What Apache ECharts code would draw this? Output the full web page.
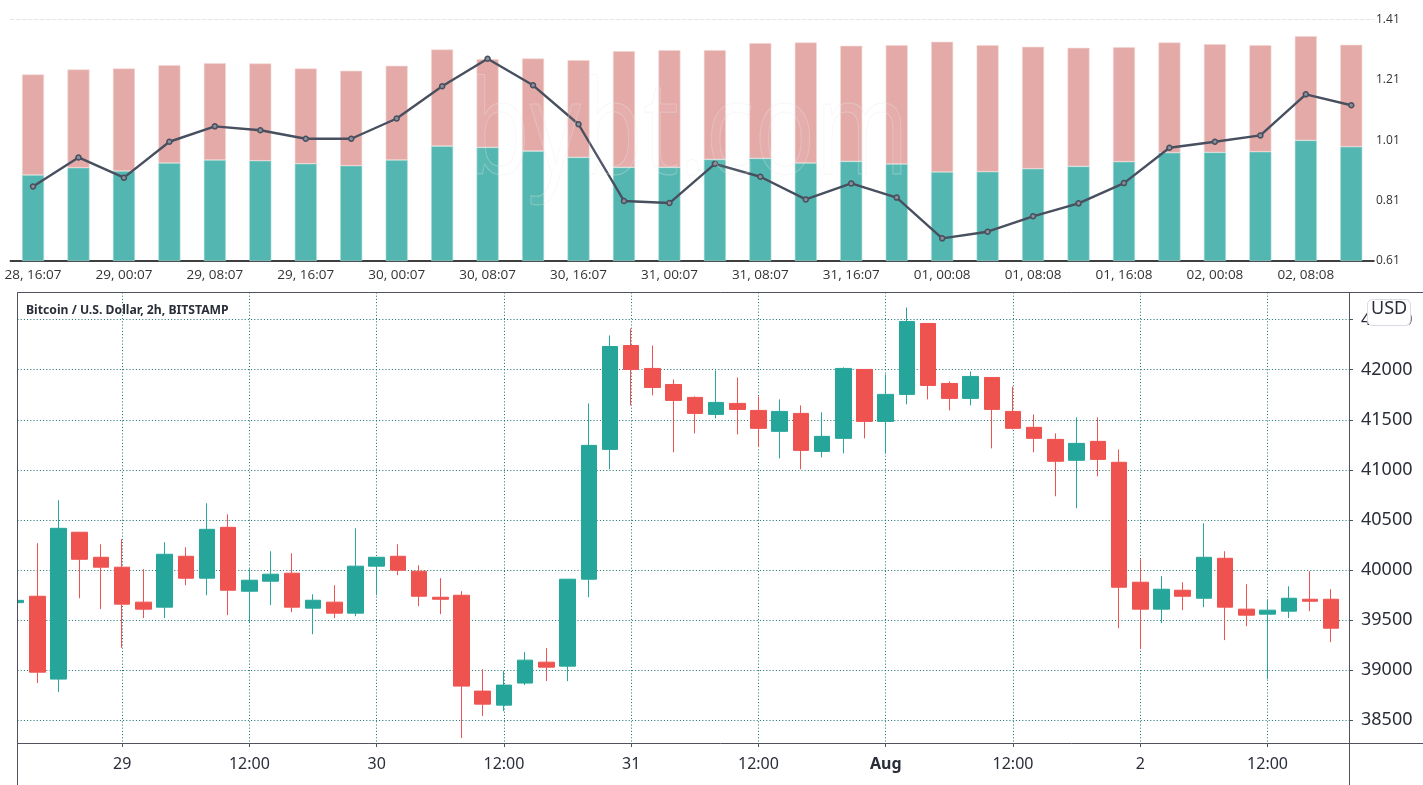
<!DOCTYPE html>
<html><head><meta charset="utf-8">
<style>html,body{margin:0;padding:0;background:#fff}#c{width:1423px;height:785px}</style>
<script src="https://cdn.jsdelivr.net/npm/echarts@6/dist/echarts.min.js"></script>
</head><body><div id="c"></div>
<script>
// ---- upper panel
const ratioLabels = ['28, 16:07','28, 20:07','29, 00:07','29, 04:07','29, 08:07','29, 12:07','29, 16:07','29, 20:07','30, 00:07','30, 04:07','30, 08:07','30, 12:07','30, 16:07','30, 20:07','31, 00:07','31, 04:07','31, 08:07','31, 12:07','31, 16:07','31, 20:07','01, 00:08','01, 04:08','01, 08:08','01, 12:08','01, 16:08','01, 20:08','02, 00:08','02, 04:08','02, 08:08','02, 12:08'];
const longs  = [258,280,270,294,303,301,292,286,303,345,341,330,311,281,281,305,308,294,299,291,267,268,277,284,298,325,326,328,362,343];
const shorts = [302,295,308,294,291,292,286,285,283,290,265,278,292,349,352,328,346,362,347,357,391,380,366,356,344,331,325,320,313,306];
const ratio  = [0.857,0.953,0.886,1.005,1.056,1.043,1.015,1.015,1.082,1.189,1.280,1.192,1.063,0.809,0.802,0.932,0.889,0.814,0.867,0.820,0.685,0.707,0.758,0.801,0.868,0.985,1.005,1.026,1.162,1.126];
// ---- lower panel, 2h candles; x is hours since 28 Jul 00:00, first candle at 14:00
const firstHour = 14;
const opens  = [39675,39739,38912,40378,40128,40029,39680,39630,40138,39919,40427,39789,39889,39969,39620,39680,39570,40039,40138,39989,39729,39749,38792,38652,38872,39081,39041,39909,41205,42242,42013,41853,41724,41554,41664,41594,41385,41564,41185,41315,42003,41484,41754,42462,41863,41714,41923,41584,41425,41305,41096,41285,41076,39879,39610,39799,39719,40118,39610,39560,39590,39709,39709];
const closes = [39698,38981,40417,40108,40029,39660,39610,40158,39919,40407,39799,39899,39959,39630,39699,39570,40039,40128,39999,39739,39709,38842,38662,38852,39101,39031,39909,41245,42232,42003,41823,41694,41564,41674,41604,41415,41584,41195,41335,42013,41484,41754,42482,41843,41714,41933,41604,41415,41315,41086,41265,41105,39829,39610,39809,39739,40128,39630,39550,39600,39719,39689,39420];
const lows   = [39675,38872,38782,39719,39610,39224,39520,39520,39849,39749,39550,39480,39650,39580,39360,39520,39540,39749,39949,39640,39560,38323,38543,38592,38852,38892,38892,39729,41006,41644,41744,41175,41365,41514,41355,41228,41115,41006,41125,41165,41315,41165,41654,41704,41594,41644,41215,41405,41175,40737,40617,40936,39420,39211,39470,39600,39630,39301,39440,38912,39520,39590,39281];
const highs  = [39698,40268,40697,40378,40258,40308,40009,40278,40228,40667,40557,40009,40188,40168,39759,39849,40417,40128,40258,40048,39919,39789,39011,38995,39181,39221,39909,41664,42342,42412,42242,41903,41734,41993,41923,41734,41704,41644,41574,42023,42003,41953,42621,42462,41883,41983,41923,41833,41554,41365,41524,41524,41205,40108,39939,39879,40467,40188,39859,39709,39839,39989,39809];
const tickHours  = [24,36,48,60,72,84,96,108,120,132];
const tickLabels = ['29','12:00','30','12:00','31','12:00','{b|Aug}','12:00','2','12:00'];

const candles = opens.map((o,i)=>[firstHour+i*2,o,closes[i],lows[i],highs[i]]);
const xMin = firstHour + 0.0665*2;  // left frame edge
const xMax = firstHour + 62.84*2;   // right frame edge

const chart = echarts.init(document.getElementById('c'),null,{renderer:'canvas'});
const dotted = {color:'#126f6a',width:1,type:[1,2.2]};
const frame = (x1,y1,x2,y2)=>({type:'line',silent:true,z:10,shape:{x1,y1,x2,y2},style:{stroke:'#50535e',lineWidth:1}});

chart.setOption({
  animation:false,
  backgroundColor:'#fff',
  title:{text:'Bitcoin / U.S. Dollar, 2h, BITSTAMP',left:26,top:305,padding:0,
    textStyle:{fontFamily:'Noto Sans',fontSize:12.2,fontWeight:'bold',color:'#2a2e39'}},
  grid:[
    {left:10.3,right:49,top:19.5,height:241.5},
    {left:17.5,right:74,top:292.5,height:450.5}
  ],
  xAxis:[
    {gridIndex:0,type:'category',data:ratioLabels,
      axisLine:{lineStyle:{color:'#000',width:1.5}},axisTick:{show:false},
      axisLabel:{interval:1,margin:7,fontFamily:'Open Sans',fontSize:13.5,color:'#333'}},
    {gridIndex:0,type:'category',position:'top',data:ratioLabels,
      axisLine:{lineStyle:{color:'#e6e6e6',width:1,type:'dashed'}},axisTick:{show:false},axisLabel:{show:false}},
    {gridIndex:1,type:'value',min:xMin,max:xMax,scale:true,
      axisLine:{show:false},
      axisTick:{show:true,length:4,customValues:tickHours,lineStyle:{color:'#50535e'}},
      splitLine:{show:true,lineStyle:dotted},
      axisLabel:{margin:13,customValues:tickHours,hideOverlap:false,
        fontFamily:'Noto Sans',fontSize:16,color:'#2a2e39',
        formatter:v=>tickLabels[tickHours.indexOf(v)],
        rich:{b:{fontFamily:'Noto Sans',fontSize:16,fontWeight:'bold',color:'#2a2e39'}}}}
  ],
  yAxis:[
    {gridIndex:0,type:'value',position:'right',min:0.61,max:1.41,interval:0.2,
      axisLine:{show:false},axisTick:{show:false},splitLine:{show:false},
      axisLabel:{margin:2,padding:[0,0,4,0],fontFamily:'Open Sans',fontSize:12,color:'#333',formatter:v=>v.toFixed(2)}},
    {gridIndex:0,type:'value',min:0,max:725,show:false,splitLine:{show:false}},
    {gridIndex:1,type:'value',position:'right',min:38274,max:42771,splitNumber:9,
      axisLine:{show:false},
      axisTick:{show:true,length:4,lineStyle:{color:'#50535e'}},
      splitLine:{show:true,lineStyle:dotted},
      axisLabel:{margin:12,fontFamily:'Noto Sans',fontSize:18,color:'#2a2e39',
        showMinLabel:false,showMaxLabel:false,
        formatter:v=>v%500===0?String(v):''}}
  ],
  series:[
    {type:'bar',name:'Longs',stack:'v',xAxisIndex:0,yAxisIndex:1,data:longs,barWidth:22,
      itemStyle:{color:'#53b6b0',borderColor:'#a4dbd6',borderWidth:0.6}},
    {type:'bar',name:'Shorts',stack:'v',xAxisIndex:0,yAxisIndex:1,data:shorts,barWidth:22,
      itemStyle:{color:'#e4aaa8',borderColor:'#f3d6d4',borderWidth:0.6}},
    {type:'line',name:'Ratio',xAxisIndex:0,yAxisIndex:0,data:ratio,z:5,
      symbol:'circle',symbolSize:5,showSymbol:true,
      lineStyle:{color:'#484f5e',width:2.4},
      itemStyle:{color:'#8a8f99',borderColor:'#484f5e',borderWidth:1.5}},
    {type:'candlestick',name:'BTCUSD',xAxisIndex:2,yAxisIndex:2,data:candles,barWidth:16,clip:true,
      encode:{x:0,y:[1,2,3,4]},
      itemStyle:{color:'#26a69a',color0:'#ef5350',borderColor:'#26a69a',borderColor0:'#ef5350',borderWidth:1}}
  ],
  graphic:[
    {type:'text',silent:true,z:8,x:468,y:72,scaleX:0.78,
      style:{text:'bybt.com',font:'130px "Open Sans"',textVerticalAlign:'top',fill:'rgba(255,255,255,0.05)',stroke:'rgba(232,232,232,0.35)',lineWidth:1}},
    {type:'rect',silent:true,z:9,shape:{x:0,y:293,width:17,height:450},style:{fill:'#fff'}},
    frame(17.5,292.5,1423,292.5),
    frame(17.5,743.5,1423,743.5),
    frame(17.5,292.5,17.5,785),
    frame(1349.5,292.5,1349.5,785),
    {type:'rect',silent:true,z:20,shape:{x:1367.5,y:299.5,width:43,height:26,r:5},
      style:{fill:'#fff',stroke:'#d9dae3',lineWidth:1}},
    {type:'text',silent:true,z:21,left:1371,top:300,
      style:{text:'USD',font:'18px "Noto Sans"',fill:'#2a2e39'}}
  ]
});
</script></body></html>
